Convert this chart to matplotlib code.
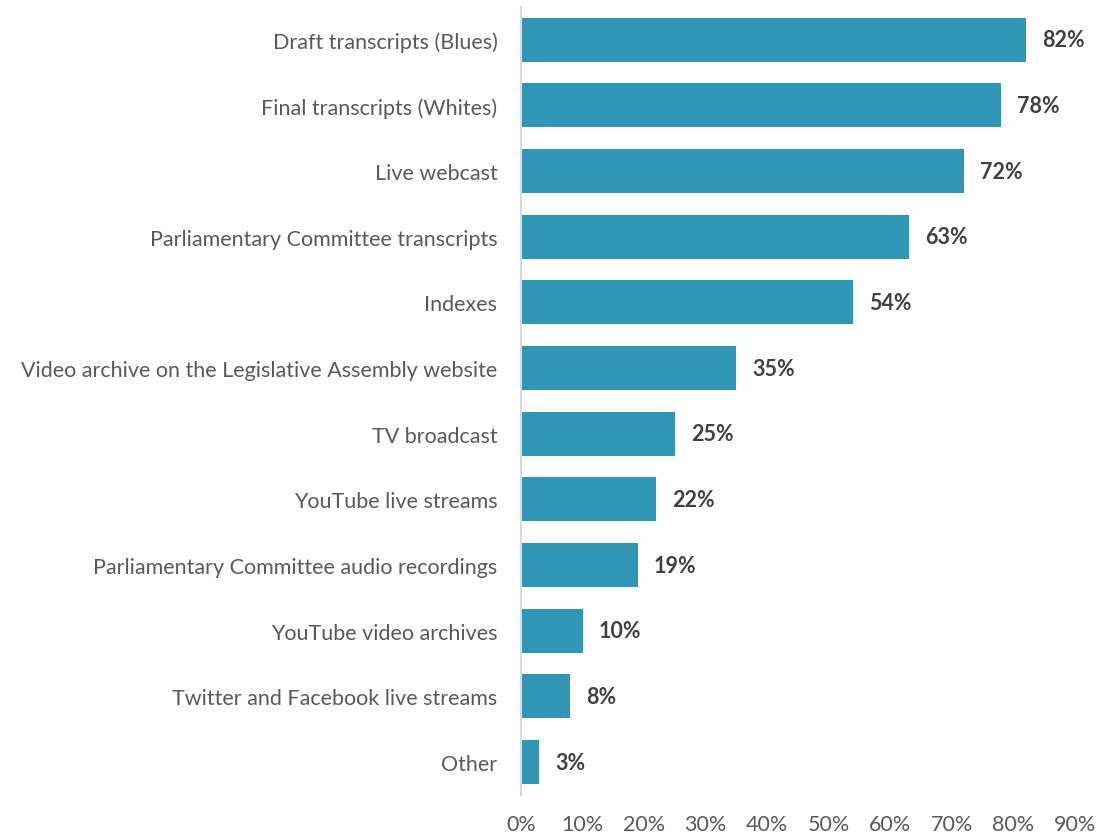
import matplotlib.pyplot as plt
import numpy as np

categories = [
    "Draft transcripts (Blues)",
    "Final transcripts (Whites)",
    "Live webcast",
    "Parliamentary Committee transcripts",
    "Indexes",
    "Video archive on the Legislative Assembly website",
    "TV broadcast",
    "YouTube live streams",
    "Parliamentary Committee audio recordings",
    "YouTube video archives",
    "Twitter and Facebook live streams",
    "Other",
]
shares = [82, 78, 72, 63, 54, 35, 25, 22, 19, 10, 8, 3]
xticks = [0, 10, 20, 30, 40, 50, 60, 70, 80, 90]

plt.rcParams['font.family'] = ['Lato', 'DejaVu Sans']

BAR = "#3195B5"
LABEL = "#595959"
VALUE = "#404040"
FS = 15.5

fig = plt.figure(figsize=(11.01, 8.37), dpi=100)
ax = fig.add_axes([0.4732, 0.049, 0.5032, 0.9416])

y = np.arange(len(categories))
ax.barh(y, shares, height=0.67, color=BAR)

for yi, v in zip(y, shares):
    ax.text(v + 2.6, yi, f"{v}%", va="center", ha="left",
            fontsize=FS, fontweight="bold", color=VALUE)

ax.set_yticks(y)
ax.set_yticklabels(categories, fontsize=FS, color=LABEL)
ax.set_ylim(len(categories) - 0.5, -0.5)

ax.set_xlim(0, 90)
ax.set_xticks(xticks)
ax.set_xticklabels([f"{t}%" for t in xticks], fontsize=FS, color=LABEL)

ax.tick_params(axis="both", length=0)
ax.tick_params(axis="y", pad=17)
ax.tick_params(axis="x", pad=14)

for side in ["top", "right", "bottom"]:
    ax.spines[side].set_visible(False)
ax.spines["left"].set_color("#D9D9D9")
ax.spines["left"].set_linewidth(1.5)

fig.savefig("out.png", dpi=100)
